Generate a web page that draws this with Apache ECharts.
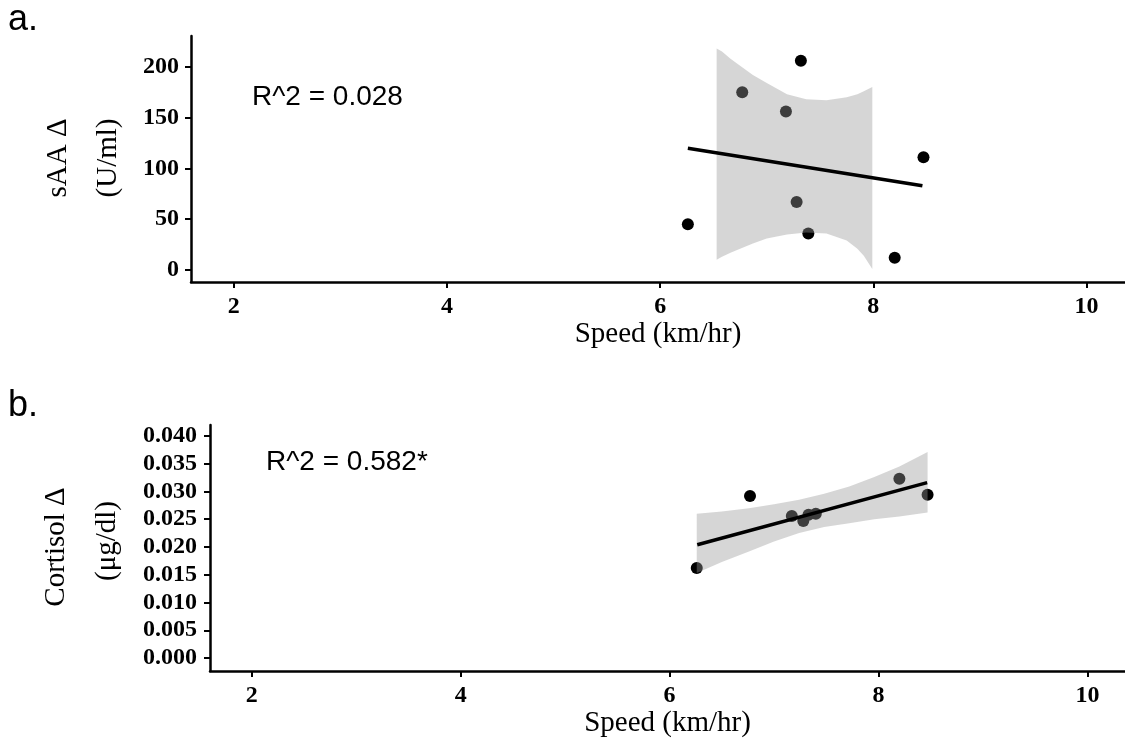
<!DOCTYPE html>
<html>
<head>
<meta charset="utf-8">
<script src="https://cdn.jsdelivr.net/npm/echarts@6/dist/echarts.min.js"></script>
<style>
  html, body { margin: 0; padding: 0; background: #fff; }
  #chart { width: 1125px; height: 748px; }
</style>
</head>
<body>
<div id="chart"></div>
<script>
// measured points, same runners in both panels
const speed = [6.26, 6.77, 7.18, 7.28, 7.32, 7.39, 8.20, 8.47];
const saaDelta = [45, 175, 156, 67, 206, 36, 12, 111];
const cortisolSpeed = [6.26, 6.77, 7.17, 7.28, 7.33, 7.40, 8.20, 8.47];
const cortisolDelta = [0.0162, 0.0292, 0.0256, 0.0247, 0.0258, 0.0260, 0.0323, 0.0294];

// fitted lines (end points)
const saaFitX = [6.26, 8.46];
const saaFitY = [119.8, 83.0];
const cortFitX = [6.265, 8.466];
const cortFitY = [0.0204, 0.0316];

// confidence bands
const saaBandX = [6.53, 6.58, 6.66, 6.75, 6.87, 7.0, 7.19, 7.37, 7.56, 7.75, 7.85, 7.91, 7.99];
const saaBandHi = [218, 215, 208, 201, 192, 184, 173, 168, 167, 170, 173, 176, 180];
const saaBandLo = [10, 13, 17, 21, 26, 31, 35, 37, 36, 29, 21, 14, 1];
const cortBandX = [6.26, 6.5, 6.76, 7.0, 7.24, 7.48, 7.72, 7.96, 8.2, 8.47];
const cortBandHi = [0.0260, 0.0264, 0.0270, 0.0277, 0.0285, 0.0296, 0.0309, 0.0326, 0.0345, 0.0371];
const cortBandLo = [0.0153, 0.0173, 0.0192, 0.0210, 0.0225, 0.0236, 0.0243, 0.0250, 0.0255, 0.0262];

const speedTicks = [2, 4, 6, 8, 10];
const saaTicks = [0, 50, 100, 150, 200];
const cortTicks = [0, 0.005, 0.01, 0.015, 0.02, 0.025, 0.03, 0.035, 0.04];

const zip = (a, b) => a.map((v, i) => [v, b[i]]);

function bandRenderer(xs, lo, hi) {
    return function (params, api) {
        if (params.dataIndex !== 0) return;
        let pts = [];
        for (let i = 0; i < xs.length; i++) pts.push(api.coord([xs[i], hi[i]]));
        for (let i = xs.length - 1; i >= 0; i--) pts.push(api.coord([xs[i], lo[i]]));
        return {
            type: 'polygon',
            shape: { points: pts },
            style: { fill: 'rgba(153,153,153,0.4)' }
        };
    };
}

const tickFont = {
    fontFamily: 'Liberation Serif',
    fontWeight: 'bold',
    fontSize: 24,
    color: '#000'
};
const axisLine = { show: true, onZero: false, lineStyle: { color: '#000', width: 2.5 } };

function xAxisFor(gridIndex) {
    return {
        type: 'value',
        gridIndex: gridIndex,
        min: 1.6,
        max: 10.36,
        name: 'Speed (km/hr)',
        nameLocation: 'middle',
        nameGap: 36,
        nameTextStyle: { fontFamily: 'Liberation Serif', fontSize: 29, color: '#000' },
        axisLine: axisLine,
        axisTick: { show: true, length: 6, customValues: speedTicks, lineStyle: { color: '#000', width: 2 } },
        axisLabel: Object.assign({ margin: 13, customValues: speedTicks }, tickFont),
        splitLine: { show: false }
    };
}

const chart = echarts.init(document.getElementById('chart'));

const option = {
    animation: false,
    backgroundColor: '#fff',
    grid: [
        { left: 191, top: 36, right: 0, height: 246 },
        { left: 210, top: 425, right: 0, height: 246 }
    ],
    xAxis: [xAxisFor(0), xAxisFor(1)],
    yAxis: [
        {
            type: 'value',
            gridIndex: 0,
            min: -11.8,
            max: 230.3,
            axisLine: axisLine,
            axisTick: { show: true, length: 6, customValues: saaTicks, lineStyle: { color: '#000', width: 2 } },
            axisLabel: Object.assign({ margin: 12, customValues: saaTicks }, tickFont),
            splitLine: { show: false }
        },
        {
            type: 'value',
            gridIndex: 1,
            min: -0.00234,
            max: 0.04198,
            axisLine: axisLine,
            axisTick: { show: true, length: 6, customValues: cortTicks, lineStyle: { color: '#000', width: 2 } },
            axisLabel: Object.assign({
                margin: 13,
                customValues: cortTicks,
                formatter: v => v.toFixed(3)
            }, tickFont),
            splitLine: { show: false }
        }
    ],
    series: [
        {
            type: 'scatter', xAxisIndex: 0, yAxisIndex: 0, z: 2,
            symbolSize: 12, itemStyle: { color: '#000', opacity: 1 },
            data: zip(speed, saaDelta)
        },
        {
            type: 'custom', xAxisIndex: 0, yAxisIndex: 0, z: 3,
            renderItem: bandRenderer(saaBandX, saaBandLo, saaBandHi),
            data: zip(saaBandX, saaBandHi)
        },
        {
            type: 'line', xAxisIndex: 0, yAxisIndex: 0, z: 4,
            symbol: 'none', lineStyle: { color: '#000', width: 3.5 },
            data: zip(saaFitX, saaFitY)
        },
        {
            type: 'scatter', xAxisIndex: 1, yAxisIndex: 1, z: 2,
            symbolSize: 12, itemStyle: { color: '#000', opacity: 1 },
            data: zip(cortisolSpeed, cortisolDelta)
        },
        {
            type: 'custom', xAxisIndex: 1, yAxisIndex: 1, z: 3,
            renderItem: bandRenderer(cortBandX, cortBandLo, cortBandHi),
            data: zip(cortBandX, cortBandHi)
        },
        {
            type: 'line', xAxisIndex: 1, yAxisIndex: 1, z: 4,
            symbol: 'none', lineStyle: { color: '#000', width: 3.5 },
            data: zip(cortFitX, cortFitY)
        }
    ],
    graphic: [
        // panel letters
        { type: 'text', left: 8, top: 2, style: { text: 'a.', font: '36px "Liberation Sans"', fill: '#000' } },
        { type: 'text', left: 8, top: 388, style: { text: 'b.', font: '36px "Liberation Sans"', fill: '#000' } },
        // R^2 annotations
        { type: 'text', x: 252, y: 97, style: { text: 'R^2 = 0.028', font: '28px "Liberation Sans"', fill: '#000', verticalAlign: 'middle' } },
        { type: 'text', x: 266, y: 462, style: { text: 'R^2 = 0.582*', font: '28px "Liberation Sans"', fill: '#000', verticalAlign: 'middle' } },
        // y axis titles (two lines each)
        { type: 'text', x: 58, y: 158, rotation: Math.PI / 2, style: { text: 'sAA \u0394', font: '29px "Liberation Serif"', fill: '#000', align: 'center', verticalAlign: 'middle' } },
        { type: 'text', x: 108, y: 158, rotation: Math.PI / 2, style: { text: '(U/ml)', font: '29px "Liberation Serif"', fill: '#000', align: 'center', verticalAlign: 'middle' } },
        { type: 'text', x: 56, y: 547, rotation: Math.PI / 2, style: { text: 'Cortisol \u0394', font: '29px "Liberation Serif"', fill: '#000', align: 'center', verticalAlign: 'middle' } },
        { type: 'text', x: 107, y: 541, rotation: Math.PI / 2, style: { text: '(\u03bcg/dl)', font: '29px "Liberation Serif"', fill: '#000', align: 'center', verticalAlign: 'middle' } }
    ]
};

chart.setOption(option);
</script>
</body>
</html>
